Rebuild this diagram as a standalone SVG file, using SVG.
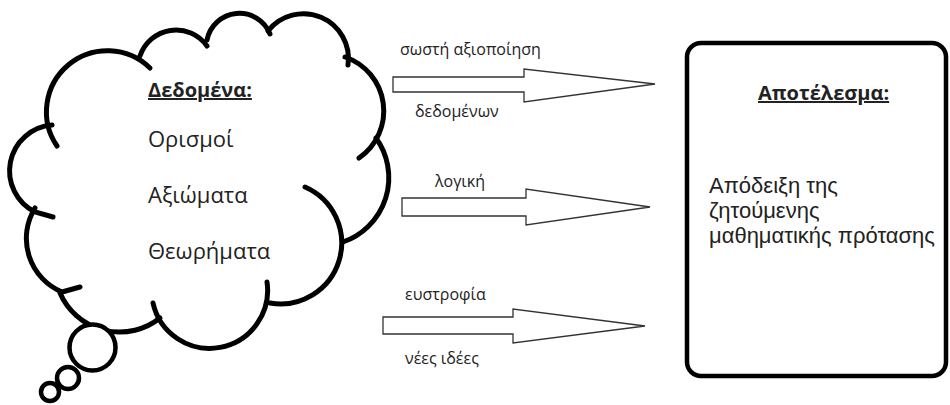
<svg xmlns="http://www.w3.org/2000/svg" width="950" height="405" viewBox="0 0 950 405">
<style>
.cl{fill:none;stroke:#000;stroke-width:5;stroke-linecap:round}
.bub{fill:#fff;stroke:#000;stroke-width:4.5}
.ar{fill:#fff;stroke:#333;stroke-width:1.3;stroke-linejoin:miter}
.t{font-family:"Open Sans","DejaVu Sans",sans-serif;fill:#222}
.big{font-size:22px}
.bx{font-family:"Liberation Sans",Arial,sans-serif;font-size:22px}
.hd{font-size:20px;font-weight:bold;text-decoration:underline}
.lb{font-size:16px}
</style>
<rect width="950" height="405" fill="#fff"/>
<g id="cloud">
<path class="cl" d="M57,146 A61,61 0 0 1 150,68"/>
<path class="cl" d="M140,56 A38,38 0 0 1 207,46"/>
<path class="cl" d="M207,40 A33,33 0 0 1 270,34"/>
<path class="cl" d="M268,31 A45,45 0 0 1 348,65"/>
<path class="cl" d="M345,57 A57,57 0 0 1 359,158"/>
<path class="cl" d="M376,138 A68,68 0 0 1 343,242"/>
<path class="cl" d="M305,187 A61,61 0 0 1 270,303"/>
<path class="cl" d="M267,282 A58,58 0 0 1 153,303"/>
<path class="cl" d="M160,318 A65,65 0 0 1 60,293"/>
<path class="cl" d="M80,287 L62,292 A58,58 0 0 1 35,208"/>
<path class="cl" d="M53,217 L35,212 A46,46 0 0 1 52,125"/>
<circle class="bub" cx="92.5" cy="347.5" r="23"/>
<circle class="bub" cx="68" cy="378" r="11"/>
<circle class="bub" cx="50" cy="392" r="9"/>
<text class="t hd" x="148" y="97">Δεδομένα:</text>
<text class="t big" x="148" y="147">Ορισμοί</text>
<text class="t big" x="148" y="203">Αξιώματα</text>
<text class="t big" x="148" y="259">Θεωρήματα</text>
</g>
<g id="result">
<rect x="687" y="43" width="259" height="333" rx="14" fill="#fff" stroke="#000" stroke-width="4.5"/>
<text class="t hd" x="758" y="100">Αποτέλεσμα:</text>
<text class="t bx" x="709" y="193">Απόδειξη της</text>
<text class="t bx" x="709" y="218">ζητούμενης</text>
<text class="t bx" x="709" y="243">μαθηματικής πρότασης</text>
</g>
<g id="connectors">
<polygon class="ar" points="393,77 524,77 524,69 655,84 524,102 524,92 393,92"/>
<polygon class="ar" points="402,198 526,198 526,189 650,207 526,225 526,216 402,216"/>
<polygon class="ar" points="383,317 513,317 513,309 645,326 513,343 513,334 383,334"/>
<text class="t lb" x="400" y="55">σωστή αξιοποίηση</text>
<text class="t lb" x="415" y="117">δεδομένων</text>
<text class="t lb" x="435" y="187">λογική</text>
<text class="t lb" x="405" y="300">ευστροφία</text>
<text class="t lb" x="405" y="364">νέες ιδέες</text>
</g>
</svg>
